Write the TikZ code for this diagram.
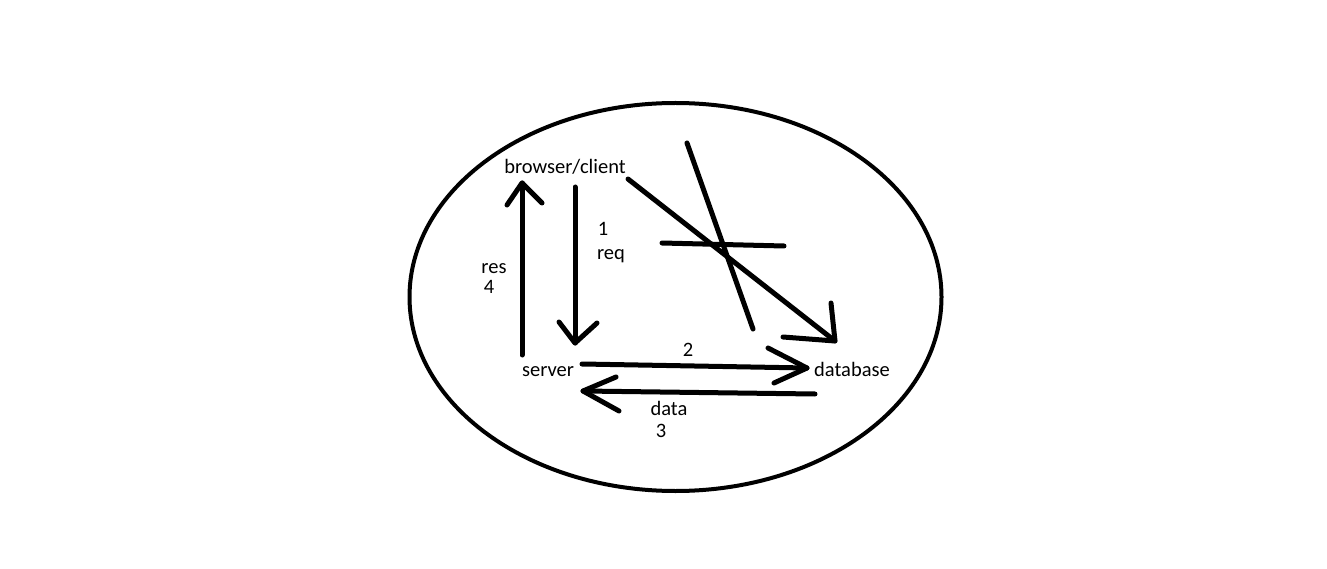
\documentclass[tikz,border=0pt]{standalone}
\usepackage{fontspec}
\setmainfont{Carlito}
\begin{document}
\begin{tikzpicture}[x=1pt,y=-1pt,
  lbl/.style={inner sep=0pt,anchor=base,font=\fontsize{20.5}{22}\selectfont},
  pen/.style={line width=5pt,line cap=round,line join=round},
  rim/.style={line width=4pt}]
\useasboundingbox[fill=white] (0,0) rectangle (1327,569);
\draw[rim] (675.5,297) ellipse [x radius=266,y radius=194];
% labels
\node[lbl] (bc) at (565,174) {browser/client};
\node[lbl] (one) at (603,236) {1};
\node[lbl] (req) at (611,259) {req};
\node[lbl] (res) at (494,273) {res};
\node[lbl] (four) at (489,294) {4};
\node[lbl] (srv) at (548,376) {server};
\node[lbl] (two) at (688,356) {2};
\node[lbl] (db) at (852,376) {database};
\node[lbl] (data) at (669,415) {data};
\node[lbl] (three) at (661,437) {3};
% connector end points
\coordinate (resS) at (522,355); \coordinate (resT) at (522,183);
\coordinate (reqS) at (575,187); \coordinate (reqT) at (575,343);
\coordinate (diagS) at (628,179); \coordinate (diagT) at (835,341);
\coordinate (twoS) at (582,364); \coordinate (twoT) at (807,368);
\coordinate (thrS) at (815,394); \coordinate (thrT) at (583,391);
% arrows
\draw[pen] (resS) -- (resT);
\draw[pen] (507,205) -- (resT) -- (542,203);
\draw[pen] (reqS) -- (reqT);
\draw[pen] (559,322) -- (reqT) -- (597,323);
\draw[pen] (diagS) -- (diagT);
\draw[pen] (831,303) -- (diagT) -- (783,337);
\draw[pen] (twoS) -- (twoT);
\draw[pen] (768,348) -- (twoT) -- (774,383);
\draw[pen] (thrS) -- (thrT);
\draw[pen] (616,377) -- (thrT) -- (619,411);
% cross-out strokes
\draw[pen] (687,143) -- (753,329);
\draw[pen] (662,243) -- (784,246);
\end{tikzpicture}
\end{document}
